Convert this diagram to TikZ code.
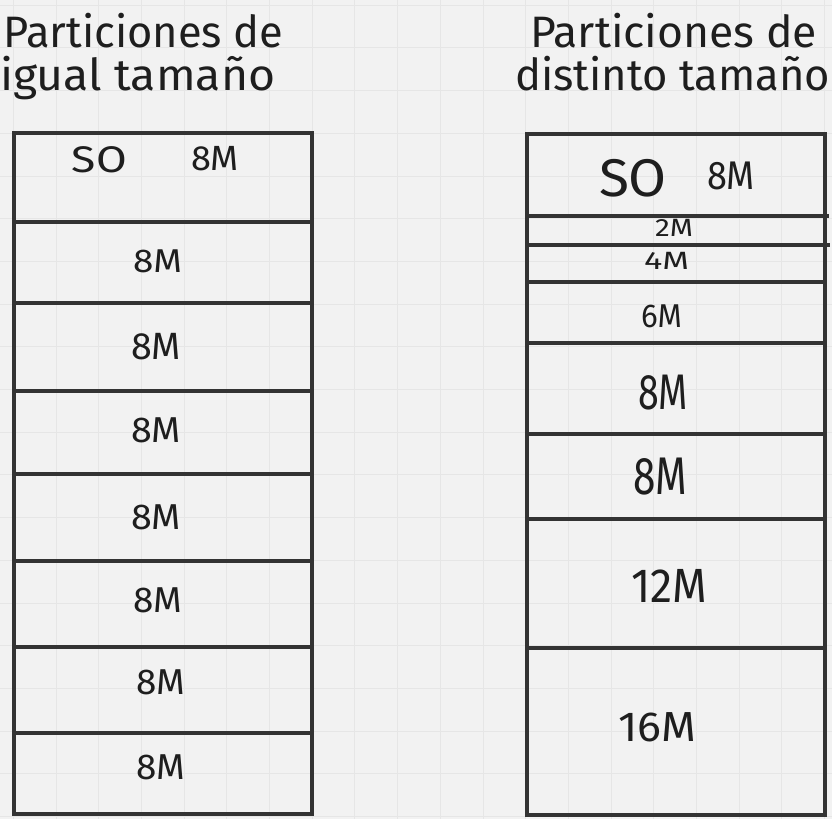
\documentclass[tikz,border=0pt]{standalone}
\usepackage{fontspec}
\setmainfont{Fira Sans}
\usepackage{graphicx}
\definecolor{bg}{HTML}{F2F2F2}
\definecolor{gridc}{HTML}{E6E6E6}
\definecolor{ink}{HTML}{333333}
\definecolor{txt}{HTML}{1E1E1E}
\newcommand\fw[2]{\resizebox{#1pt}{\height}{#2}}
\newcommand\fs[1]{\fontsize{#1}{#1}\selectfont}
\begin{document}
\begin{tikzpicture}[x=1pt,y=-1pt,
  part/.style={draw=ink,line width=4pt},
  lbl/.style={text=txt,inner sep=0pt,anchor=center},
  ttl/.style={text=txt,inner sep=0pt,anchor=base west}]
\fill[bg] (0,0) rectangle (832,819);
\useasboundingbox (0,0) rectangle (832,819);
\foreach \i in {0,...,19} { \draw[gridc,line width=1pt] ({13.3+42.7*\i},0) -- ++(0,819); }
\foreach \i in {0,...,19} { \draw[gridc,line width=1pt] (0,{5.2+42.7*\i}) -- ++(832,0); }
% titles
\node[ttl] (t1a) at (3,47) {\fs{44}\fw{280}{Particiones de}};
\node[ttl] (t1b) at (0,90) {\fs{44}\fw{275}{igual tamaño}};
\node[ttl] (t2a) at (530,47) {\fs{44}\fw{287}{Particiones de}};
\node[ttl] (t2b) at (515,90) {\fs{44}\fw{315}{distinto tamaño}};
% left box
\draw[part] (14,133) rectangle (312,814);
\foreach \y in {222,302.7,391,473.7,561,647.3,733} { \draw[part] (14,\y) -- (313,\y); }
\node[lbl] (lso) at (99.5,160) {\fs{37}\fw{55}{SO}};
\node[lbl] (l1) at (215,159) {\fs{35}\fw{48}{8M}};
\node[lbl] (l2) at (157.5,261.5) {\fs{33}\fw{49}{8M}};
\node[lbl] (l3) at (156,346.5) {\fs{38}\fw{50}{8M}};
\node[lbl] (l4) at (156,430.5) {\fs{36}\fw{50}{8M}};
\node[lbl] (l5) at (156,517.5) {\fs{36}\fw{50}{8M}};
\node[lbl] (l6) at (157.5,600.5) {\fs{36}\fw{49}{8M}};
\node[lbl] (l7) at (160.5,682.5) {\fs{36}\fw{49}{8M}};
\node[lbl] (l8) at (160.5,767.5) {\fs{36}\fw{49}{8M}};
% right box
\draw[part] (527,134) rectangle (825,815);
\draw[part] (527,216) -- (829,216);
\draw[part] (527,245) -- (830,245);
\foreach \y in {281.7,343.3,434,519.3,648.3} { \draw[part] (527,\y) -- (826,\y); }
\node[lbl] (rso) at (633,178) {\fs{53}\fw{68}{SO}};
\node[lbl] (r1) at (731,176) {\fs{40}\fw{48}{8M}};
\node[lbl] (r2) at (674,228) {\fs{25}\fw{38}{2M}};
\node[lbl] (r3) at (666.5,260.5) {\fs{25}\fw{45}{4M}};
\node[lbl] (r4) at (661.5,316.5) {\fs{33}\fw{41}{6M}};
\node[lbl] (r5) at (663,392.5) {\fs{50}\fw{50}{8M}};
\node[lbl] (r6) at (660,476.5) {\fs{53}\fw{54}{8M}};
\node[lbl] (r7) at (669,585.5) {\fs{48}\fw{76}{12M}};
\node[lbl] (r8) at (657,727.5) {\fs{42}\fw{78}{16M}};
\end{tikzpicture}
\end{document}
